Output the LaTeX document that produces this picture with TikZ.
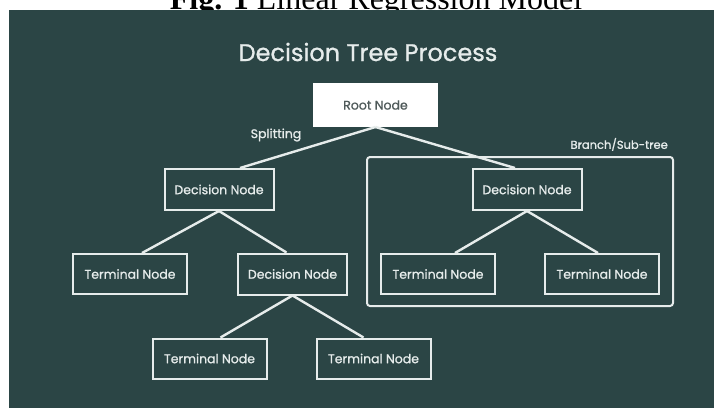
\documentclass[tikz,border=0pt]{standalone}
\usepackage{fontspec}
\usetikzlibrary{positioning, fit}
\newfontfamily\popfont[FakeBold=1]{Poppins}
\newfontfamily\capfont{Liberation Serif}
\definecolor{panelbg}{HTML}{2B4545}
\definecolor{linegray}{HTML}{E6ECEB}
\definecolor{roottext}{HTML}{4F5A5A}

\begin{document}
\begin{tikzpicture}[
  x=1pt, y=-1pt,
  font=\popfont\fontsize{12.5}{15}\selectfont,
  dec/.style={draw=linegray, line width=2pt, text=linegray, minimum width=109pt, minimum height=41pt, inner sep=0pt},
  term/.style={dec, minimum width=114pt, minimum height=40pt},
  rootbox/.style={dec, fill=white, draw=white, text=roottext, minimum width=123pt, minimum height=42pt},
  lbl/.style={text=linegray, inner sep=0pt},
  edge/.style={draw=linegray, line width=2.4pt},
  layer/.style={draw=linegray, line width=2pt, rounded corners=3pt, inner xsep=13pt, inner ysep=11pt},
  title/.style={text=linegray, font=\popfont\fontsize{24}{28}\selectfont}
]
\useasboundingbox (0,0) rectangle (714,408);
\clip (0,0) rectangle (714,408);
\fill[white] (0,0) rectangle (714,408);

% caption of the page, cut by the panel
\node[anchor=base, inner sep=0pt, font=\capfont\fontsize{32}{36}\selectfont] (cap) at (376,9) {\textbf{Fig. 1} Linear Regression Model};
\fill[panelbg] (9,10) rectangle (714,408);

\node[title] (head) at (368,52) {Decision Tree Process};

\node[rootbox] (root) at (375.5,105) {Root Node};

\node[dec, below=41pt of root, xshift=-156.5pt] (dec1) {Decision Node};
\node[dec, below=41pt of root, xshift=151.5pt] (dec2) {Decision Node};

\node[term, below=42pt of dec1, xshift=-89pt] (term1) {Terminal Node};
\node[dec, right=49pt of term1] (dec3) {Decision Node};
\node[term, below=42pt of dec3, xshift=-83pt] (term2) {Terminal Node};
\node[term, right=48pt of term2] (term3) {Terminal Node};

\node[term, below=42pt of dec2, xshift=-89pt] (term4) {Terminal Node};
\node[term, right=48pt of term4] (term5) {Terminal Node};

\node[lbl] (split) at (276,135) {Splitting};

\draw[edge] (root.south) -- ([xshift=21pt]dec1.north);
\draw[edge] (root.south) -- ([xshift=-12pt]dec2.north);
\draw[edge] (dec1.south) -- ([xshift=12pt]term1.north);
\draw[edge] (dec1.south) -- ([xshift=-6pt]dec3.north);
\draw[edge] (dec3.south) -- ([xshift=11pt]term2.north);
\draw[edge] (dec3.south) -- ([xshift=-10pt]term3.north);
\draw[edge] (dec2.south) -- ([xshift=17pt]term4.north);
\draw[edge] (dec2.south) -- ([xshift=-4pt]term5.north);

\node[layer, fit=(dec2)(term4)(term5), label={[lbl, font=\popfont\fontsize{11.5}{14}\selectfont, anchor=south east, xshift=-6pt, yshift=5pt]north east:Branch/Sub-tree}] (sub) {};

\end{tikzpicture}
\end{document}
